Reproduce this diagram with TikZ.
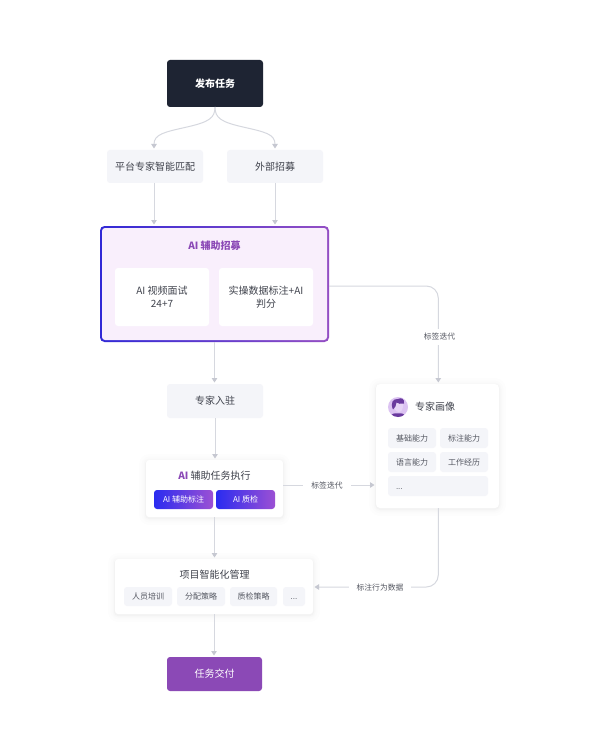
\documentclass[tikz,border=0pt]{standalone}
\usepackage{fontspec}
\setmainfont{Noto Sans CJK SC}
\newfontfamily\latinfont{Liberation Sans}
\usetikzlibrary{arrows.meta,calc}
\definecolor{ink}{HTML}{3F424C}
\definecolor{chipink}{HTML}{555862}
\definecolor{lineg}{HTML}{D6D8DF}
\definecolor{tipg}{HTML}{C6C8D1}
\definecolor{softg}{HTML}{F4F5F9}
\definecolor{darkbox}{HTML}{1E2433}
\definecolor{purp}{HTML}{8B49B6}
\definecolor{blueg}{HTML}{2A2CF0}
\definecolor{purg}{HTML}{9C50D4}
\definecolor{edgeb}{HTML}{3129D6}
\definecolor{edgep}{HTML}{944FC4}
\definecolor{panel}{HTML}{F9EFFC}
\definecolor{avbg}{HTML}{DCC3F2}
\definecolor{avdark}{HTML}{6A3A9E}
\definecolor{avface}{HTML}{E6D4F6}
\tikzset{
  x=1pt,y=-1pt,
  base/.style={inner sep=0pt,outer sep=0pt,rounded corners=3pt,align=center,text=ink,font=\fontsize{10}{13}\selectfont},
  size/.style n args={2}{minimum width=#1pt,minimum height=#2pt},
  softbox/.style={base,fill=softg},
  darkstep/.style={base,fill=darkbox,text=white,font=\fontsize{10}{13}\selectfont\bfseries},
  endstep/.style={base,fill=purp,text=white},
  card/.style={base,fill=white,
    preaction={draw=black,draw opacity=.006,line width=14pt,line join=round,transform canvas={yshift=-1pt}},
    preaction={draw=black,draw opacity=.008,line width=9pt,line join=round,transform canvas={yshift=-1pt}},
    preaction={draw=black,draw opacity=.012,line width=5pt,line join=round,transform canvas={yshift=-1pt}},
    preaction={draw=black,draw opacity=.02,line width=2pt,line join=round,transform canvas={yshift=-1pt}}},
  inner/.style={base,fill=white},
  chip/.style={base,fill=softg,text=chipink,font=\fontsize{8}{10}\selectfont},
  gradbtn/.style={base,left color=blueg,right color=purg,text=white,font=\fontsize{8}{10}\selectfont},
  wire/.style={draw=lineg,line width=1pt,-{Triangle[width=5.5pt,length=4.5pt,color=tipg]},shorten >=1.5pt},
  wirelabel/.style={inner sep=0pt,fill=white,text=chipink,font=\fontsize{7.8}{10}\selectfont},
}
\begin{document}
\begin{tikzpicture}
\useasboundingbox[fill=white] (0,0) rectangle (599,751);
% boxes
\node[darkstep,size={96}{47}] (task) at (215,83.5) {发布任务};
\node[softbox,size={96}{33}] (match) at (155,166.5) {平台专家智能匹配};
\node[softbox,size={96}{33}] (ext) at (275,166.5) {外部招募};
\node[base,rounded corners=4.5pt,left color=edgeb,right color=edgep,size={229}{116}] (ai) at (214.5,284) {};
\node[base,rounded corners=3pt,fill=panel,size={225}{112}] (aiin) at (214.5,284) {};
\node[font=\fontsize{10}{13}\selectfont\bfseries,text=purp,inner sep=0pt] (aititle) at (214.5,246) {AI 辅助招募};
\node[inner,size={94}{58}] (video) at (162,297) {AI 视频面试\\24+7};
\node[inner,size={94}{58}] (label) at (266,297) {实操数据标注+AI\\判分};
\node[softbox,size={96}{34}] (join) at (215,401) {专家入驻};
\node[card,size={137}{57}] (exec) at (214.5,488.5) {};
\node[inner sep=0pt,text=ink,font=\fontsize{10}{13}\selectfont] (exectitle) at (214.5,476) {\textcolor{purp}{\bfseries AI} 辅助任务执行};
\node[gradbtn,size={59}{19}] (b1) at (183.5,499.5) {AI 辅助标注};
\node[gradbtn,size={59}{19}] (b2) at (245.5,499.5) {AI 质检};
\node[card,size={198}{55}] (proj) at (214,586.5) {};
\node[inner sep=0pt,text=ink,font=\fontsize{10}{13}\selectfont] (projtitle) at (214.5,575) {项目智能化管理};
\node[chip,size={48}{19}] (p1) at (148,596.5) {人员培训};
\node[chip,size={48}{19}] (p2) at (201,596.5) {分配策略};
\node[chip,size={47}{19}] (p3) at (253.5,596.5) {质检策略};
\node[chip,size={22}{19}] (p4) at (294,596.5) {\vphantom{基}\latinfont ...};
\node[endstep,size={95}{34}] (deliver) at (214.5,674) {任务交付};
\node[card,size={123}{124},rounded corners=4pt] (persona) at (437.5,446) {};
\node[inner sep=0pt,text=ink,font=\fontsize{10}{13}\selectfont] (ptitle) at (435,406.5) {专家画像};
\node[chip,size={48}{20}] (c1) at (412,438) {基础能力};
\node[chip,size={48}{20}] (c2) at (464,438) {标注能力};
\node[chip,size={48}{20}] (c3) at (412,462) {语言能力};
\node[chip,size={48}{20}] (c4) at (464,462) {工作经历};
\node[chip,size={100}{20},text width=84pt,align=left] (c5) at (438,486) {\vphantom{基}\latinfont ...};
% avatar
\begin{scope}
\clip (398,407) circle (10);
\fill[avbg] (388,397) rectangle (408,417);
\fill[avdark] (390,417.5) .. controls (391,413.5) and (394,413) .. (398,413.5) .. controls (402,413) and (405,413.5) .. (406,417.5) -- cycle;
\fill[avface] (394,403) .. controls (393.5,409) and (396,412) .. (399,412) .. controls (402,412) and (403.5,408) .. (403,403) -- cycle;
\fill[avdark] (393,409.5) .. controls (390,403) and (393,398.5) .. (398,399) .. controls (401,397) and (405,399) .. (404,403.5) .. controls (401,404.5) and (398,403.5) .. (396.5,402.5) .. controls (395.5,405) and (396,408) .. (393,409.5) -- cycle;
\end{scope}
% connectors
\draw[wire] (task.south) .. controls (215,118) and (209,122) .. (187,127) .. controls (165,132) and (154,134) .. ([xshift=-1pt]match.north);
\draw[wire] (task.south) .. controls (215,118) and (221,122) .. (243,127) .. controls (265,132) and (275,134) .. (ext.north);
\draw[wire] ([xshift=-1pt]match.south) -- ([xshift=-1pt]match.south |- ai.north);
\draw[wire] (ext.south) -- (ext.south |- ai.north);
\draw[wire] (ai.south) -- (ai.south |- join.north);
\draw[wire] (join.south) -- (join.south |- exec.north);
\draw[wire] (exec.south) -- (exec.south |- proj.north);
\draw[wire] (proj.south) -- (proj.south |- deliver.north);
\draw[wire,rounded corners=12pt] ([yshift=-2pt]ai.east) -| ([xshift=.8pt]persona.north);
\draw[wire] ([yshift=3.5pt]exec.east) -- ([yshift=3.5pt]exec.east -| persona.west);
\draw[wire,rounded corners=12pt] ([xshift=.8pt]persona.south) |- ([yshift=-.5pt]proj.east);
% labels
\node[wirelabel,inner xsep=0pt,inner ysep=4pt] (l1) at (439.5,337) {标签迭代};
\node[wirelabel,inner xsep=8pt,inner ysep=2pt] (l2) at (327,486) {标签迭代};
\node[wirelabel,inner xsep=8pt,inner ysep=2pt] (l3) at (380,587.5) {标注行为数据};
\end{tikzpicture}
\end{document}
